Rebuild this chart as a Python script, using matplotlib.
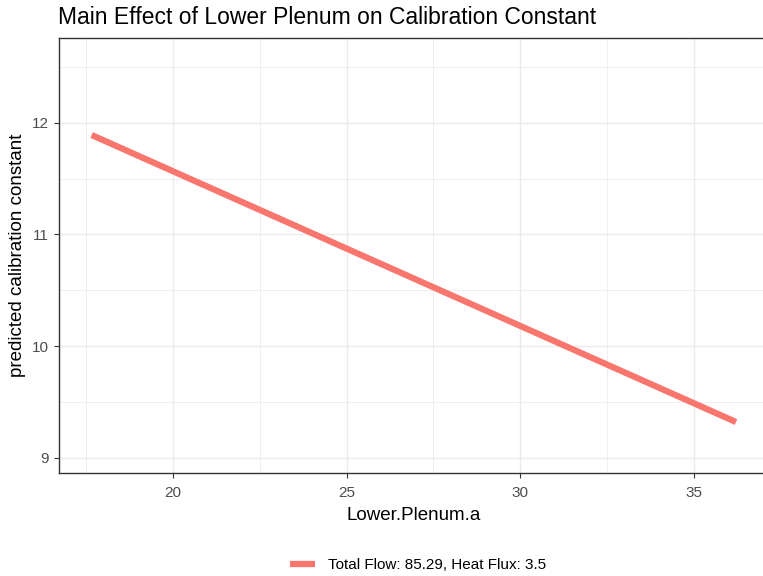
import numpy as np
import matplotlib
matplotlib.use("Agg")
import matplotlib.pyplot as plt
from matplotlib.ticker import MultipleLocator

plt.rcParams['font.family'] = ['Liberation Sans', 'DejaVu Sans']

# data
lower_plenum = [17.67, 36.2]
predicted_const = [11.89, 9.32]
series_label = "Total Flow: 85.29, Heat Flux: 3.5"

line_color = '#F8766D'
W, H = 763, 576

fig = plt.figure(figsize=(W / 100, H / 100), dpi=100)
ax = fig.add_axes([59.3 / W, (H - 472.7) / H, 709 / W, 434.4 / H])

ax.plot(lower_plenum, predicted_const, color=line_color, lw=4.5,
        solid_capstyle='butt', label=series_label)

ax.set_xlim(16.74, 37.13)
ax.set_ylim(8.866, 12.756)
ax.xaxis.set_major_locator(MultipleLocator(5))
ax.xaxis.set_minor_locator(MultipleLocator(2.5))
ax.yaxis.set_major_locator(MultipleLocator(1))
ax.yaxis.set_minor_locator(MultipleLocator(0.5))

# ggplot theme_bw look
ax.grid(which='major', color='#EBEBEB', lw=1.0)
ax.grid(which='minor', color='#EBEBEB', lw=0.55)
ax.set_axisbelow(True)
for s in ax.spines.values():
    s.set_color('#333333')
    s.set_linewidth(1.0)
ax.tick_params(which='major', length=3.5, width=0.8, color='#333333',
               labelsize=11, labelcolor='#4D4D4D')
ax.tick_params(axis='x', pad=6)
ax.tick_params(axis='y', pad=4)
ax.tick_params(which='minor', length=0)

ax.set_xlabel("Lower.Plenum.a", fontsize=13.5, color='black', labelpad=5)
ax.set_ylabel("predicted calibration constant", fontsize=13.5, color='black', labelpad=4)

fig.text(58 / W, 1 - 23.5 / H, "Main Effect of Lower Plenum on Calibration Constant",
         fontsize=16.5, va='baseline', ha='left')

leg = fig.legend(loc='center', bbox_to_anchor=(418 / W, 1 - 565 / H), frameon=False,
                 fontsize=11, handlelength=1.65, handletextpad=0.8)

fig.savefig("out.png", dpi=100)
